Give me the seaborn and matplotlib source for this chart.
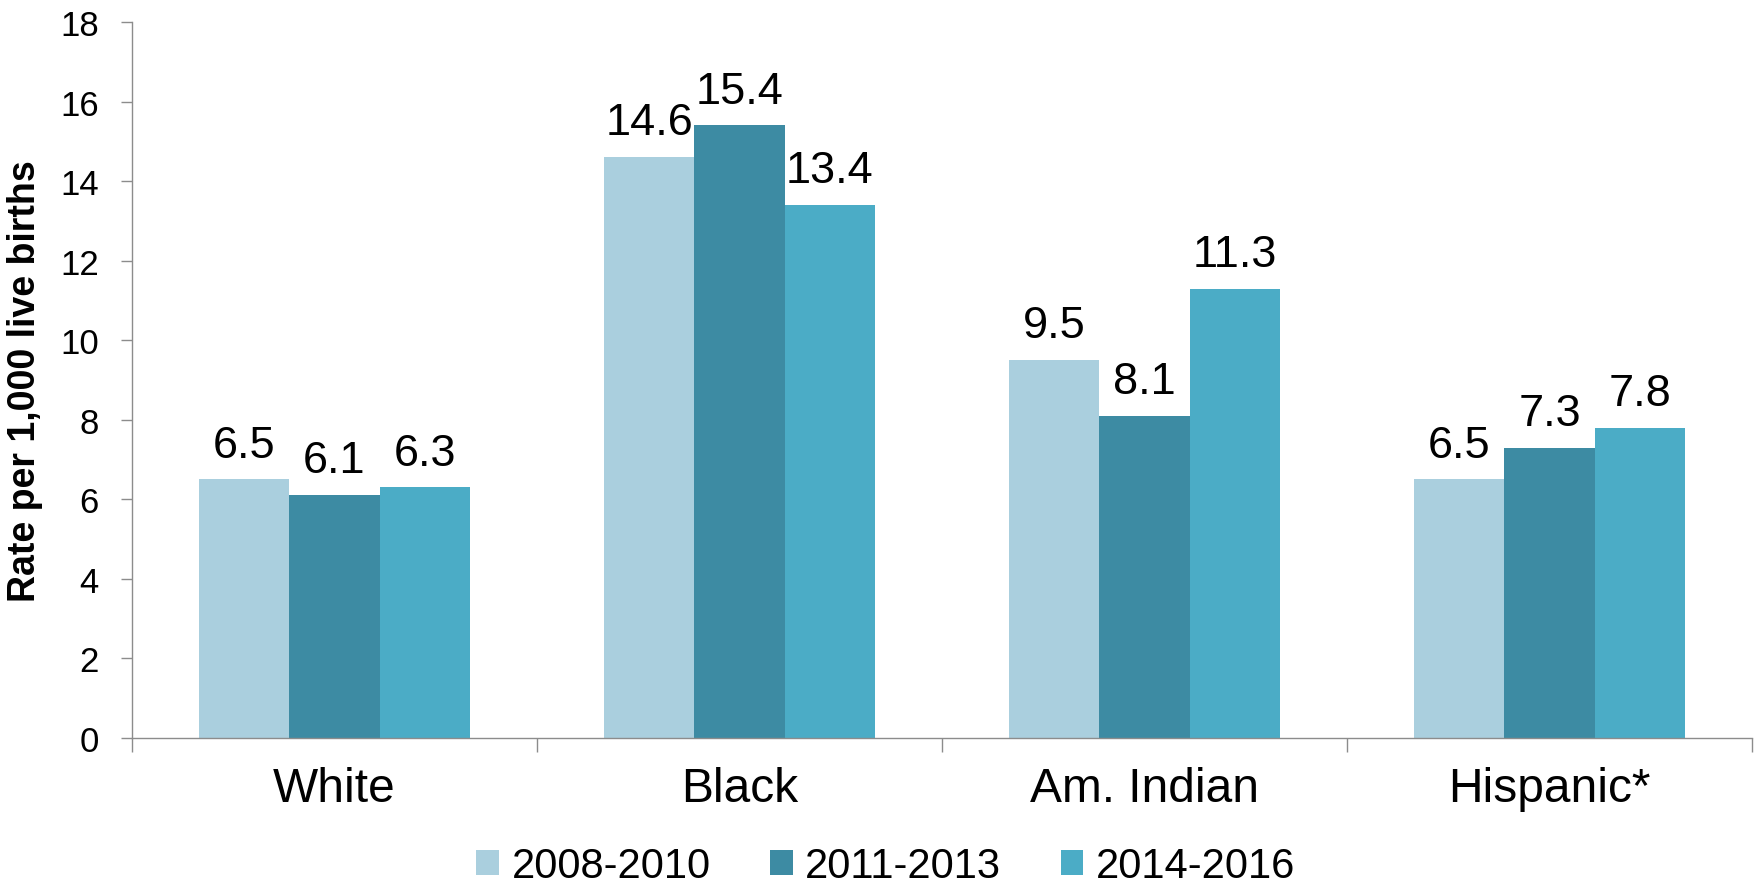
import matplotlib
matplotlib.use("Agg")
import matplotlib.pyplot as plt
import seaborn as sns
import pandas as pd

# Infant mortality rate by race/ethnicity across three time periods
groups = ["White", "Black", "Am. Indian", "Hispanic*"]
periods = ["2008-2010", "2011-2013", "2014-2016"]
rate_2008_2010 = [6.5, 14.6, 9.5, 6.5]
rate_2011_2013 = [6.1, 15.4, 8.1, 7.3]
rate_2014_2016 = [6.3, 13.4, 11.3, 7.8]
colors = ["#AACFDE", "#3D8BA3", "#4BACC6"]
y_ticks = [0, 2, 4, 6, 8, 10, 12, 14, 16, 18]

series = [rate_2008_2010, rate_2011_2013, rate_2014_2016]
df = pd.DataFrame(
    [(g, p, v) for p, vals in zip(periods, series) for g, v in zip(groups, vals)],
    columns=["group", "period", "rate"],
)

sns.set_style("white")
plt.rcParams["font.family"] = ["Liberation Sans", "DejaVu Sans"]
plt.rcParams["text.color"] = "black"
plt.rcParams["axes.labelcolor"] = "black"
plt.rcParams["xtick.labelcolor"] = "black"
plt.rcParams["ytick.labelcolor"] = "black"

fig = plt.figure(figsize=(17.61, 8.87), dpi=100)
ax = fig.add_axes([132 / 1761, 1 - 739 / 887, 1620 / 1761, 716 / 887])

sns.barplot(
    data=df, x="group", y="rate", hue="period", order=groups, hue_order=periods,
    palette=colors, width=0.667, gap=0, linewidth=0, saturation=1, ax=ax,
    legend=True, errorbar=None,
)

for cont in ax.containers:
    ax.bar_label(cont, fmt="%.1f", fontsize=32.5, padding=10, color="black")

ax.set_ylim(0, 18)
ax.set_yticks(y_ticks)
ax.set_xlim(-0.5, len(groups) - 0.5)

spine_color = "#8C8C8C"
for side in ["top", "right"]:
    ax.spines[side].set_visible(False)
for side in ["left", "bottom"]:
    ax.spines[side].set_color(spine_color)
    ax.spines[side].set_linewidth(1.0)

ax.tick_params(axis="y", which="major", direction="out", length=8, width=1.0,
               color=spine_color, labelsize=25, pad=16, left=True,
               labelcolor="black")
ax.tick_params(axis="x", which="major", length=0, labelsize=34.5, pad=20,
               labelcolor="black")
ax.set_xticks([i - 0.5 for i in range(len(groups) + 1)], minor=True)
ax.tick_params(axis="x", which="minor", direction="out", length=10, width=1.0,
               color=spine_color, bottom=True)

ax.set_xlabel("")
ax.set_ylabel("Rate per 1,000 live births", fontsize=27, fontweight="bold",
              color="black")
ax.yaxis.set_label_coords(-0.055, 0.5)

handles, labels = ax.get_legend_handles_labels()
ax.get_legend().remove()
leg = fig.legend(
    handles, labels, loc="center", bbox_to_anchor=(0.503, 0.0225), ncol=3,
    frameon=False, fontsize=30, handlelength=0.55, handleheight=0.55,
    handletextpad=0.3, columnspacing=1.42,
)
for t in leg.get_texts():
    t.set_color("black")

fig.savefig("out.png", dpi=100)
